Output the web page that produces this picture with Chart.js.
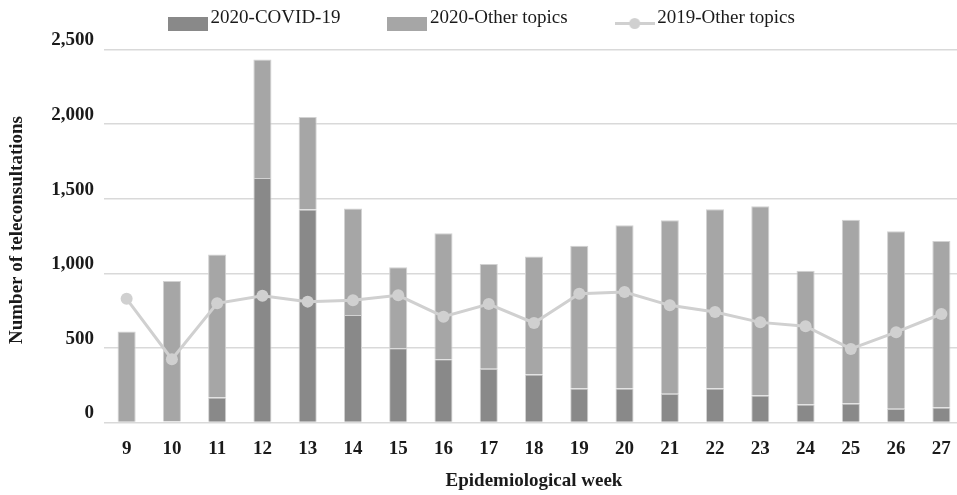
<!DOCTYPE html>
<html lang="en">
<head>
<meta charset="UTF-8">
<title>Teleconsultations per epidemiological week</title>
<script src="https://cdn.jsdelivr.net/npm/chart.js"></script>
<style>
    html, body { margin: 0; padding: 0; background: #fff; overflow: hidden; }
    canvas { display: block; }
</style>
</head>
<body>
<canvas id="teleChart" width="970" height="495"></canvas>
<script>
// weeks and counts
const weeks = ['9', '10', '11', '12', '13', '14', '15', '16', '17', '18', '19', '20', '21', '22', '23', '24', '25', '26', '27'];
const covid2020 = [0, 8, 167, 1639, 1427, 720, 498, 424, 361, 321, 228, 228, 192, 228, 181, 120, 127, 92, 100];
const other2020 = [609, 940, 959, 794, 620, 714, 543, 845, 701, 792, 956, 1094, 1164, 1201, 1268, 897, 1231, 1190, 1117];
const other2019 = [829, 424, 799, 850, 810, 819, 852, 709, 794, 667, 863, 874, 785, 740, 671, 645, 493, 605, 727];
const yTicks = [0, 500, 1000, 1500, 2000, 2500];

const DARK = '#898989';
const LIGHT = '#a6a6a6';
const LINE = '#d0d0d0';
const TXT = '#1a1a1a';
const serif = "'Liberation Serif', 'Times New Roman', serif";
const FS = 19;
const LEG_PAD = 54;

// small canvases used as legend markers (box sits a bit below the text middle)
function makeBox(color) {
    const c = document.createElement('canvas');
    c.width = 40; c.height = 26;
    const g = c.getContext('2d');
    g.fillStyle = color;
    g.fillRect(0, 12, 40, 14);
    return c;
}
function makeLineMark() {
    const c = document.createElement('canvas');
    c.width = 40; c.height = 26;
    const g = c.getContext('2d');
    g.strokeStyle = LINE;
    g.lineWidth = 3;
    g.beginPath(); g.moveTo(0, 18.5); g.lineTo(40, 18.5); g.stroke();
    g.fillStyle = LINE;
    g.beginPath(); g.arc(20, 18.5, 5.5, 0, Math.PI * 2); g.fill();
    return c;
}
const markers = [makeBox(DARK), makeBox(LIGHT), makeLineMark()];

new Chart(document.getElementById('teleChart'), {
    type: 'bar',
    data: {
        labels: weeks,
        datasets: [
            {
                label: '2020-COVID-19',
                data: covid2020,
                backgroundColor: DARK,
                borderColor: '#d2d2d2',
                borderWidth: 1,
                stack: 'y2020',
                order: 1,
                categoryPercentage: 1,
                barPercentage: 0.4
            },
            {
                label: '2020-Other topics',
                data: other2020,
                backgroundColor: LIGHT,
                borderColor: '#d2d2d2',
                borderWidth: 1,
                stack: 'y2020',
                order: 1,
                categoryPercentage: 1,
                barPercentage: 0.4
            },
            {
                label: '2019-Other topics',
                data: other2019,
                type: 'line',
                stack: 'y2019',
                order: 0,
                borderColor: LINE,
                backgroundColor: LINE,
                borderWidth: 3,
                pointRadius: 6,
                pointHoverRadius: 6,
                pointBackgroundColor: LINE,
                pointBorderWidth: 0,
                tension: 0
            }
        ]
    },
    options: {
        responsive: false,
        animation: false,
        // legend padding is wide for the gaps between items, pull it back up
        layout: { padding: { top: 8.5 - LEG_PAD, bottom: 0, left: 0, right: 0 } },
        plugins: {
            tooltip: { enabled: false },
            legend: {
                position: 'top',
                labels: {
                    usePointStyle: true,
                    pointStyleWidth: 26,
                    padding: LEG_PAD,
                    color: TXT,
                    font: { family: serif, size: FS },
                    generateLabels: chart => chart.data.datasets.map((ds, i) => ({
                        text: ds.label,
                        pointStyle: markers[i],
                        fillStyle: 'transparent',
                        strokeStyle: 'transparent',
                        lineWidth: 0,
                        fontColor: TXT,
                        datasetIndex: i,
                        hidden: false
                    }))
                }
            }
        },
        scales: {
            x: {
                stacked: true,
                afterFit: scale => { scale.height = 72.5; },
                grid: { display: false },
                border: { display: false },
                ticks: {
                    color: TXT,
                    padding: 7,
                    font: { family: serif, size: FS, weight: 'bold' }
                },
                title: {
                    display: true,
                    text: 'Epidemiological week',
                    color: TXT,
                    padding: { top: 0, bottom: 3 },
                    font: { family: serif, size: FS, weight: 'bold' }
                }
            },
            y: {
                stacked: true,
                min: 0,
                max: 2580,
                afterBuildTicks: scale => { scale.ticks = yTicks.map(v => ({ value: v })); },
                afterFit: scale => { scale.width = 104; },
                grid: { color: '#d9d9d9', lineWidth: 1.5, drawTicks: false },
                border: { display: false },
                ticks: {
                    color: TXT,
                    padding: 10,
                    labelOffset: -9,
                    font: { family: serif, size: FS, weight: 'bold' },
                    callback: v => v.toLocaleString('en-US')
                },
                title: {
                    display: true,
                    text: 'Number of teleconsultations',
                    color: TXT,
                    padding: { top: 6, bottom: 0 },
                    font: { family: serif, size: FS, weight: 'bold' }
                }
            }
        }
    }
});
</script>
</body>
</html>
